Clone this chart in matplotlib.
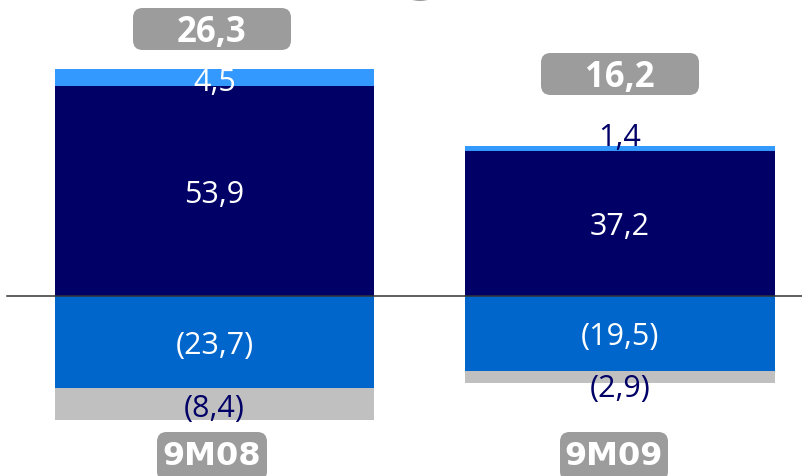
import matplotlib
matplotlib.use("Agg")
import matplotlib.pyplot as plt
from matplotlib.patches import FancyBboxPatch, Ellipse

categories = ["9M08", "9M09"]
light_pos = [4.5, 1.4]      # light blue, top of positive stack
dark_pos = [53.9, 37.2]     # navy, base of positive stack
mid_neg = [-23.7, -19.5]    # medium blue, top of negative stack
gray_neg = [-8.4, -2.9]     # gray, bottom of negative stack
value_labels = {
    "light": ["4,5", "1,4"],
    "dark": ["53,9", "37,2"],
    "mid": ["(23,7)", "(19,5)"],
    "gray": ["(8,4)", "(2,9)"],
}
totals = [l + d + m + g for l, d, m, g in zip(light_pos, dark_pos, mid_neg, gray_neg)]

NAVY = "#000066"
MID = "#0066CC"
LIGHT = "#3399FF"
GRAY = "#C0C0C0"
BOX = "#9C9C9C"

W, H = 802, 477
fig = plt.figure(figsize=(W / 100, H / 100), dpi=100)
ax = fig.add_axes([0, 0, 1, 1])
ax.set_axis_off()

scale = 3.885
y0 = 296.7
ax.set_ylim(-(H - y0) / scale, y0 / scale)
px_per_x = 405.5
ax.set_xlim(-214.5 / px_per_x, (W - 214.5) / px_per_x)

x = list(range(len(categories)))
widths = [319 / px_per_x, 310 / px_per_x]

ax.bar(x, dark_pos, width=widths, color=NAVY, linewidth=0)
ax.bar(x, light_pos, bottom=dark_pos, width=widths, color=LIGHT, linewidth=0)
ax.bar(x, mid_neg, width=widths, color=MID, linewidth=0)
ax.bar(x, gray_neg, bottom=mid_neg, width=widths, color=GRAY, linewidth=0)

ax.axhline(0, xmin=7 / W, xmax=1, color="#333333", lw=1.1, zorder=5)

fnt = dict(family=["Open Sans", "DejaVu Sans"], fontsize=22)

# value labels
offsets_pt = {  # vertical nudge (points) for each label set, per bar
    "light": [-3, 8],
    "dark": [-2, -2],
    "mid": [-2, -2],
    "gray": [-3, -8],
}
colors = {
    "light": ["white", NAVY],
    "dark": ["white", "white"],
    "mid": ["white", "white"],
    "gray": [NAVY, NAVY],
}
for i in x:
    centers = {
        "dark": dark_pos[i] / 2,
        "light": dark_pos[i] + light_pos[i] / 2,
        "mid": mid_neg[i] / 2,
        "gray": mid_neg[i] + gray_neg[i] / 2,
    }
    for key, yc in centers.items():
        ax.annotate(value_labels[key][i], (i, yc), xytext=(0, offsets_pt[key][i]),
                    textcoords="offset points", ha="center", va="center",
                    color=colors[key][i], zorder=6, **fnt)

def px_box(x0, y0_, x1, y1, text, fs, family, weight="bold", dy=0):
    fx0, fx1 = x0 / W, x1 / W
    fy0, fy1 = 1 - y1 / H, 1 - y0_ / H
    r = 0.012
    p = FancyBboxPatch((fx0 + r, fy0 + r * W / H), fx1 - fx0 - 2 * r, fy1 - fy0 - 2 * r * W / H,
                       boxstyle=f"round,pad={r},rounding_size={r}",
                       transform=fig.transFigure, facecolor=BOX, edgecolor="none",
                       mutation_aspect=W / H, zorder=7)
    fig.patches.append(p)
    fig.text((fx0 + fx1) / 2, (fy0 + fy1) / 2 + dy / H, text, ha="center", va="center",
             color="white", fontsize=fs, family=family, fontweight=weight, zorder=8)

def fmt(v):
    return f"{v:.1f}".replace(".", ",")

total_boxes = [(133, 9, 291, 51), (541, 54, 699, 96)]
for t, b in zip(totals, total_boxes):
    px_box(*b, fmt(t), 25, ["Open Sans", "DejaVu Sans"], weight="bold", dy=-3)

cat_boxes = [(157, 433, 267, 482), (560, 433, 668, 482)]
for c, b in zip(categories, cat_boxes):
    px_box(*b, c, 23, ["DejaVu Sans"], dy=1)

# partial gray shape at the top edge
ell = Ellipse((420 / W, 1 + 22 / H), 54 / W, 48 / H, transform=fig.transFigure,
              facecolor="#9a9a9a", edgecolor="none", zorder=1)
fig.patches.append(ell)

fig.savefig("out.png", dpi=100)
